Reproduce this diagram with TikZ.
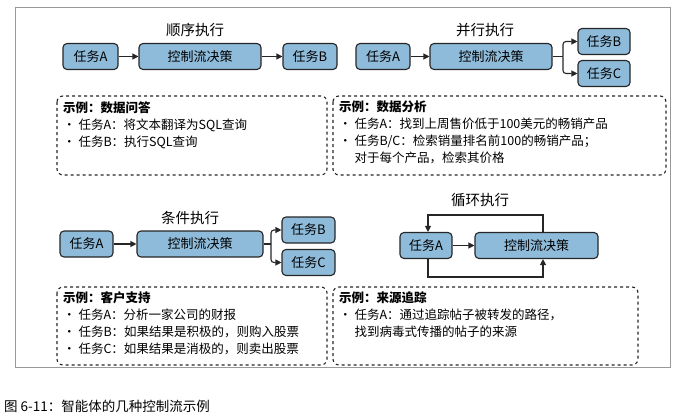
\documentclass[tikz,border=0pt]{standalone}
\usepackage{fontspec}
\setmainfont{Noto Sans CJK SC}
\usetikzlibrary{arrows.meta}
\definecolor{tb}{HTML}{8FBBDA}
\begin{document}
\begin{tikzpicture}[x=1pt,y=-1pt,
 box/.style={draw=black!85,line width=1.1pt,fill=tb,rounded corners=4pt,minimum height=26pt,inner sep=0pt,font=\fontsize{13}{14}\selectfont},
 ttl/.style={font=\fontsize{14.5}{15}\selectfont},
 ar/.style={-{Triangle[length=6pt,width=6pt]},line width=1.1pt,black!85},
 dbox/.style={draw=black!85,dashed,line width=1.1pt,rounded corners=6pt},
 txt/.style={anchor=north west,align=left,inner sep=0pt,font=\fontsize{12.5}{17}\selectfont}]
\useasboundingbox (0,0) rectangle (690,417);
\draw[black!40,line width=1pt] (15,8) rectangle (670,367);
% Sequential
\node[ttl] (t1) at (195,30) {顺序执行};
\node[box,minimum width=55pt] (a1) at (90.5,56.5) {任务A};
\node[box,minimum width=122pt] (c1) at (200,56.5) {控制流决策};
\node[box,minimum width=54pt] (b1) at (310,56.5) {任务B};
\draw[ar] (a1) -- (c1); \draw[ar] (c1) -- (b1);
\draw[dbox] (57,96) rectangle (327,175);
\node[txt] (e1) at (63,101) {\textbf{示例：数据问答}\\• 任务A：将文本翻译为SQL查询\\• 任务B：执行SQL查询};
% Parallel
\node[ttl] (t2) at (485,30) {并行执行};
\node[box,minimum width=54pt] (a2) at (383,56.5) {任务A};
\node[box,minimum width=122pt] (c2) at (491,56.5) {控制流决策};
\node[box,minimum width=52pt] (b2) at (604,41.5) {任务B};
\node[box,minimum width=52pt] (cc2) at (604,73.5) {任务C};
\draw[ar] (a2) -- (c2);
\coordinate (j2) at (563,56.5);
\draw[line width=1.1pt,black!85] (c2.east) -- (j2);
\draw[ar,rounded corners=3pt] (j2) |- (b2.west);
\draw[ar,rounded corners=3pt] (j2) |- (cc2.west);
\draw[dbox] (333,96) rectangle (666,175);
\node[txt] (e2) at (339,101) {\textbf{示例：数据分析}\\• 任务A：找到上周售价低于100美元的畅销产品\\• 任务B/C：检索销量排名前100的畅销产品；\\\phantom{• }对于每个产品，检索其价格};
% Conditional
\node[ttl] (t3) at (190,218) {条件执行};
\node[box,minimum width=53pt] (a3) at (86.5,244) {任务A};
\node[box,minimum width=126pt] (c3) at (200,244) {控制流决策};
\node[box,minimum width=53pt] (b3) at (308.5,230) {任务B};
\node[box,minimum width=53pt] (cc3) at (308.5,262.5) {任务C};
\draw[ar] (a3) -- (c3);
\coordinate (j3) at (271,244);
\draw[line width=1.1pt,black!85] (c3.east) -- (j3);
\draw[ar,rounded corners=3pt] (j3) |- (b3.west);
\draw[ar,rounded corners=3pt] (j3) |- (cc3.west);
\draw[dbox] (57,287) rectangle (327,365);
\node[txt] (e3) at (63,291) {\textbf{示例：客户支持}\\• 任务A：分析一家公司的财报\\• 任务B：如果结果是积极的，则购入股票\\• 任务C：如果结果是消极的，则卖出股票};
% Loop
\node[ttl] (t4) at (480,200) {循环执行};
\node[box,minimum width=52pt] (a4) at (426,245.5) {任务A};
\node[box,minimum width=123pt] (c4) at (536.5,245.5) {控制流决策};
\draw[ar] (a4) -- (c4);
\coordinate (u1) at (543,215); \coordinate (u2) at (428,215);
\coordinate (d1) at (428,277); \coordinate (d2) at (543,277);
\draw[ar] (c4.north -| u1) -- (u1) -- (u2) -- (a4.north -| u2);
\draw[ar] (a4.south -| d1) -- (d1) -- (d2) -- (c4.south -| d2);
\draw[dbox] (333,287) rectangle (638,365);
\node[txt] (e4) at (339,291) {\textbf{示例：来源追踪}\\• 任务A：通过追踪帖子被转发的路径，\\\phantom{• }找到病毒式传播的帖子的来源};
\node[anchor=west,inner sep=0pt,font=\fontsize{13.5}{14}\selectfont] (cap) at (4,406) {图 6-11：智能体的几种控制流示例};
\end{tikzpicture}
\end{document}
